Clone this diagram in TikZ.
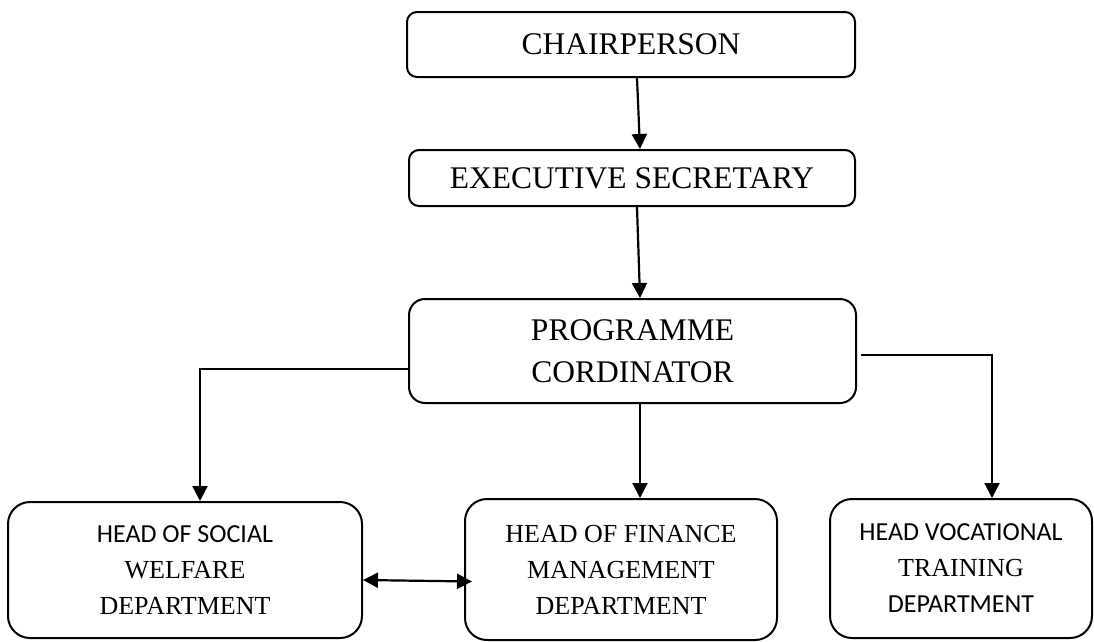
\documentclass[tikz,border=0pt]{standalone}
\usepackage{fontspec}
\setmainfont{Liberation Serif}
\newfontfamily\calib{Carlito}
\usetikzlibrary{arrows.meta}
\tikzset{
  box/.style={draw=black, line width=2pt, inner sep=0pt, align=center, text=black},
  bigtext/.style={font=\fontsize{31.5}{42}\selectfont},
  smalltext/.style={font=\fontsize{26}{36}\selectfont},
  arr/.style={line width=2.2pt, -{Triangle[length=15pt,width=15pt]}},
  arrtwo/.style={line width=2.2pt, {Triangle[length=15pt,width=15pt]}-{Triangle[length=15pt,width=15pt]}}
}
\begin{document}
\begin{tikzpicture}[x=1pt,y=-1pt]
\useasboundingbox (0,0) rectangle (1094,641);
\node[box, bigtext, rounded corners=10pt, minimum width=448pt, minimum height=65pt] (chair) at (631,44.5) {CHAIRPERSON};
\node[box, bigtext, rounded corners=10pt, minimum width=446pt, minimum height=56pt] (exec) at (632,178) {EXECUTIVE SECRETARY};
\node[box, bigtext, rounded corners=16pt, minimum width=447pt, minimum height=104pt] (prog) at (632.5,351) {PROGRAMME\\CORDINATOR};
\node[box, smalltext, rounded corners=22pt, minimum width=354pt, minimum height=136pt] (social) at (185,570) {{\calib HEAD OF SOCIAL}\\WELFARE\\DEPARTMENT};
\node[box, smalltext, rounded corners=22pt, minimum width=312pt, minimum height=141pt] (fin) at (621,569.5) {HEAD OF FINANCE\\MANAGEMENT\\DEPARTMENT};
\node[box, smalltext, rounded corners=22pt, minimum width=262pt, minimum height=139pt] (voc) at (961,568.5) {{\calib HEAD VOCATIONAL}\\TRAINING\\{\calib DEPARTMENT}};
\draw[arr] ([xshift=6pt]chair.south) -- ([xshift=8pt]exec.north);
\draw[arr] ([xshift=5pt]exec.south) -- ([xshift=7.5pt]prog.north);
\draw[arr] ([yshift=-18pt]prog.west) -| ([xshift=15pt]social.north);
\draw[arr] ([xshift=7.5pt]prog.south) -- ([xshift=19pt]fin.north);
\draw[arr] ([xshift=4pt,yshift=-4pt]prog.east) -| ([xshift=31pt]voc.north);
\draw[arrtwo] ([yshift=-10pt]social.east) -- ([xshift=8pt,yshift=-12pt]fin.west);
\end{tikzpicture}
\end{document}
